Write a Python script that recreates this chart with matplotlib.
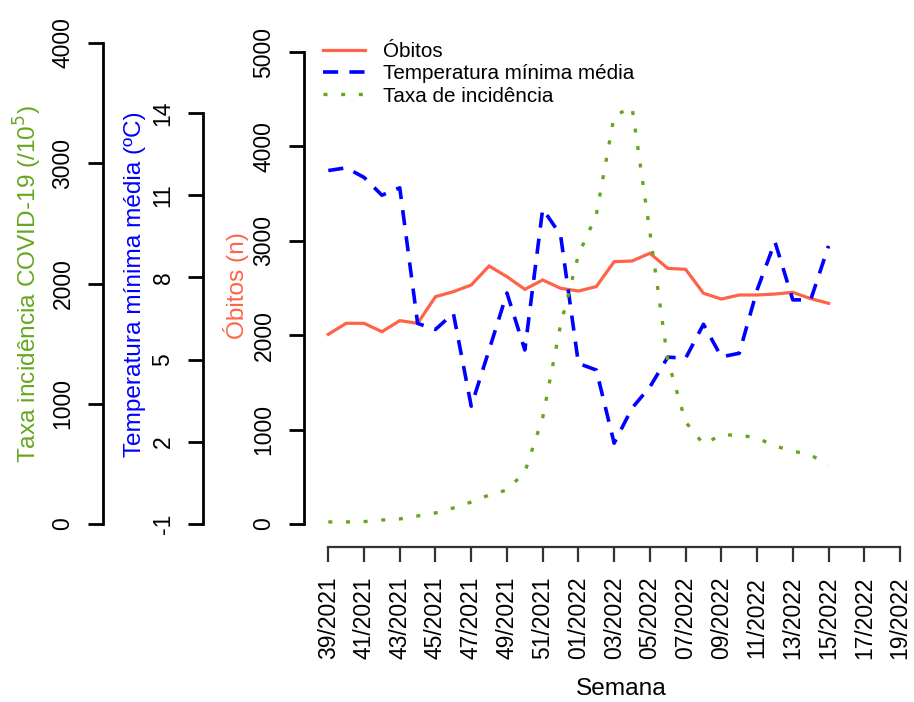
import numpy as np
import matplotlib
matplotlib.use("Agg")
import matplotlib.pyplot as plt

# weekly values, 39/2021 .. 15/2022
obitos = [2009, 2126, 2126, 2037, 2154, 2126, 2408, 2461, 2532, 2733,
          2620, 2486, 2585, 2497, 2468, 2515, 2779, 2786, 2868, 2708,
          2698, 2444, 2383, 2426, 2426, 2436, 2454, 2387, 2338]
temp_min = [11.9, 12.0, 11.65, 11.0, 11.27, 6.32, 6.1, 6.69, 3.3, 5.35,
            7.43, 5.35, 10.5, 9.55, 4.86, 4.62, 1.95, 3.23, 4.0, 5.09,
            5.05, 6.29, 5.1, 5.23, 7.54, 9.3, 7.18, 7.18, 9.15]
incidencia = [17, 17, 20, 33, 42, 67, 92, 133, 183, 241,
              283, 432, 885, 1655, 2237, 2570, 3393, 3468, 2428, 1364,
              848, 665, 740, 740, 715, 649, 607, 574, 491]

week_labels = ["39/2021", "41/2021", "43/2021", "45/2021", "47/2021", "49/2021",
               "51/2021", "01/2022", "03/2022", "05/2022", "07/2022", "09/2022",
               "11/2022", "13/2022", "15/2022", "17/2022", "19/2022"]

obitos_ticks = [0, 1000, 2000, 3000, 4000, 5000]
temp_ticks = [-1, 2, 5, 8, 11, 14]
incid_ticks = [0, 1000, 2000, 3000, 4000]

c_red = "#FF6347"
c_blue = "#0000FF"
c_green = "#66A61E"

plt.rcParams['font.family'] = ['Liberation Sans', 'DejaVu Sans']

W, H = 914, 702
fig = plt.figure(figsize=(W / 100, H / 100), dpi=100)

# axes box in pixels
left, right, top, bottom = 304, 914, 33, 547
ax = fig.add_axes([left / W, 1 - bottom / H, (right - left) / W, (bottom - top) / H])

x = np.arange(len(obitos))
step = (900 - 328.3) / 32
ax.set_xlim((left - 328.3) / step, (right - 328.3) / step)

def ylims(v0, p0, v1, p1):
    k = (p0 - p1) / (v1 - v0)
    return v0 - (bottom - p0) / k, v1 + (p1 - top) / k

ax.set_ylim(*ylims(0, 524, 5000, 52))

fs = 16.5
fs_lab = 17.6
tick_len = 10.5
lw_ax = 2.0

ax.plot(x, obitos, color=c_red, lw=2.3, solid_joinstyle='miter')

for s in ['top', 'right']:
    ax.spines[s].set_visible(False)
ax.spines['left'].set_bounds(0, 5000)
ax.spines['left'].set_linewidth(lw_ax)
ax.spines['bottom'].set_bounds(0, 32)
ax.spines['bottom'].set_linewidth(1.6)
ax.spines['bottom'].set_color('#333333')
ax.set_yticks(obitos_ticks)
ax.set_yticklabels([str(t) for t in obitos_ticks], rotation=90, va='center')
ax.tick_params(axis='y', length=tick_len, width=lw_ax, labelsize=fs, pad=10)
ax.set_xticks(np.arange(0, 33, 2))
ax.set_xticklabels(week_labels, rotation=90)
ax.tick_params(axis='x', length=tick_len, width=1.6, color='#333333', labelsize=fs, pad=11)

# temperature axis
ax2 = ax.twinx()
ax2.set_ylim(*ylims(-1, 524, 14, 113))
ax2.plot(x, temp_min, color=c_blue, lw=2.6, dashes=(4.2, 3.1), dash_capstyle='butt')
for s in ['top', 'right', 'bottom']:
    ax2.spines[s].set_visible(False)
ax2.spines['left'].set_visible(True)
ax2.spines['left'].set_position(('axes', (203 - left) / (right - left)))
ax2.spines['left'].set_bounds(-1, 14)
ax2.spines['left'].set_linewidth(lw_ax)
ax2.yaxis.set_ticks_position('left')
ax2.set_yticks(temp_ticks)
ax2.set_yticklabels([str(t) for t in temp_ticks], rotation=90, va='center')
ax2.tick_params(axis='y', length=tick_len, width=lw_ax, labelsize=fs, pad=10)

# incidence axis
ax3 = ax.twinx()
ax3.set_ylim(*ylims(0, 524, 4000, 43))
ax3.plot(x, incidencia, color=c_green, lw=2.4, dashes=(1.2, 4.1), dash_capstyle='butt')
for s in ['top', 'right', 'bottom']:
    ax3.spines[s].set_visible(False)
ax3.spines['left'].set_visible(True)
ax3.spines['left'].set_position(('axes', (103 - left) / (right - left)))
ax3.spines['left'].set_bounds(0, 4000)
ax3.spines['left'].set_linewidth(lw_ax)
ax3.yaxis.set_ticks_position('left')
ax3.set_yticks(incid_ticks)
ax3.set_yticklabels([str(t) for t in incid_ticks], rotation=90, va='center')
ax3.tick_params(axis='y', length=tick_len, width=lw_ax, labelsize=fs, pad=10)

# axis titles
fig.text(28 / W, 1 - 284 / H, "Taxa incidência COVID-19 (/10$^5$)", color=c_green,
         rotation=90, ha='center', va='center', fontsize=fs_lab)
fig.text(135 / W, 1 - 284 / H, "Temperatura mínima média (ºC)", color=c_blue,
         rotation=90, ha='center', va='center', fontsize=fs_lab)
fig.text(236 / W, 1 - 286 / H, "Óbitos (n)", color=c_red,
         rotation=90, ha='center', va='center', fontsize=fs_lab)
fig.text(621 / W, 1 - 689 / H, "Semana", ha='center', va='center', fontsize=fs_lab)

# legend
h1, = ax.plot([], [], color=c_red, lw=2.3)
h2, = ax.plot([], [], color=c_blue, lw=2.6, dashes=(4.2, 3.1), dash_capstyle='butt')
h3, = ax.plot([], [], color=c_green, lw=2.4, dashes=(1.2, 4.1), dash_capstyle='butt')
fig.legend([h1, h2, h3], ["Óbitos", "Temperatura mínima média", "Taxa de incidência"],
           loc='upper left', bbox_to_anchor=(323 / W, 1 - 42 / H), frameon=False,
           fontsize=14.9, handlelength=2.05, handletextpad=0.85, labelspacing=0.16,
           borderpad=0, borderaxespad=0)

fig.savefig("out.png", dpi=100)
